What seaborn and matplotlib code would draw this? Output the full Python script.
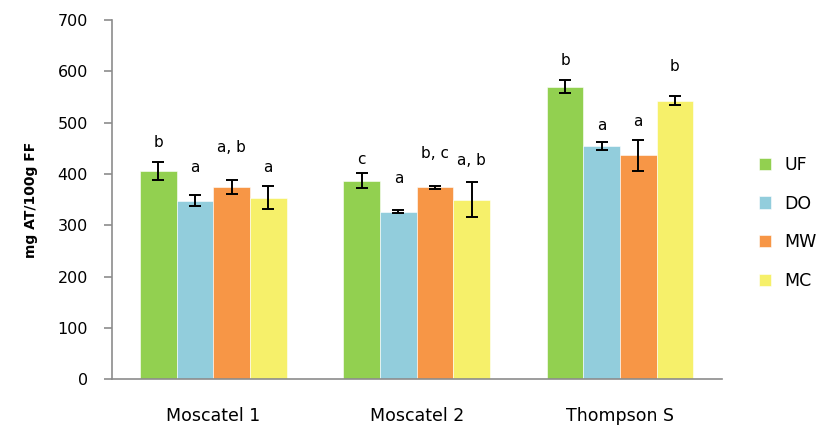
import matplotlib
matplotlib.use("Agg")
import matplotlib.pyplot as plt
import seaborn as sns
import pandas as pd

# Varieties and drying treatments
varieties = ["Moscatel 1", "Moscatel 2", "Thompson S"]
treatments = ["UF", "DO", "MW", "MC"]

# Mean titratable acidity (mg AT/100 g FF), one list per treatment
uf_mean = [406, 387, 570]
do_mean = [348, 326, 454]
mw_mean = [375, 374, 436]
mc_mean = [354, 350, 543]

# Standard deviations
uf_sd = [18, 15, 13]
do_sd = [11, 3, 8]
mw_sd = [14, 3, 31]
mc_sd = [23, 34, 9]

# Significance letters and the height they are written at
uf_letters = ["b", "c", "b"]
do_letters = ["a", "a", "a"]
mw_letters = ["a, b", "b, c", "a"]
mc_letters = ["a", "a, b", "b"]
uf_label_y = [462, 429, 622]
do_label_y = [412, 392, 494]
mw_label_y = [451, 440, 503]
mc_label_y = [412, 426, 610]

colors = ["#92D050", "#92CDDC", "#F79646", "#F6F06A"]

means = [uf_mean, do_mean, mw_mean, mc_mean]
sds = [uf_sd, do_sd, mw_sd, mc_sd]
letters = [uf_letters, do_letters, mw_letters, mc_letters]
label_y = [uf_label_y, do_label_y, mw_label_y, mc_label_y]

rows = []
for t, m in zip(treatments, means):
    for v, val in zip(varieties, m):
        rows.append({"variety": v, "treatment": t, "value": val})
df = pd.DataFrame(rows)

sns.set_theme(style="white")
plt.rcParams["font.family"] = ["DejaVu Sans"]

fig = plt.figure(figsize=(8.21, 4.26), dpi=100)
ax = fig.add_axes([0.136, 0.110, 0.743, 0.843])

sns.barplot(data=df, x="variety", y="value", hue="treatment",
            order=varieties, hue_order=treatments, palette=colors,
            width=0.72, errorbar=None, saturation=1, ax=ax,
            edgecolor="white", linewidth=0.4)

# Error bars and letters above each bar
for container, m, s, lab, ly in zip(ax.containers, means, sds, letters, label_y):
    xs = [b.get_x() + b.get_width() / 2 for b in container]
    ax.errorbar(xs, m, yerr=s, fmt="none", ecolor="black",
                elinewidth=1.4, capsize=4, capthick=1.4, zorder=5)
    for x, t, y in zip(xs, lab, ly):
        ax.text(x, y, t, ha="center", va="center", fontsize=11, color="black")

ax.set_ylim(0, 700)
ax.set_xlim(-0.5, 2.5)
ax.set_yticks(range(0, 701, 100))
ax.set_xlabel("")
ax.set_ylabel("mg AT/100g FF", fontsize=10, fontweight="bold", labelpad=14,
              color="black")

for side in ["top", "right"]:
    ax.spines[side].set_visible(False)
for side in ["left", "bottom"]:
    ax.spines[side].set_color("#8C8C8C")
    ax.spines[side].set_linewidth(1.2)

ax.tick_params(axis="y", which="major", direction="out", length=6,
               color="#8C8C8C", width=1.2, labelsize=11.5, pad=11,
               left=True, labelcolor="black")
ax.tick_params(axis="x", length=0, labelsize=12.5, pad=20, labelcolor="black")

leg = ax.legend(loc="center left", bbox_to_anchor=(1.05, 0.435), frameon=False,
                fontsize=12.5, handlelength=0.7, handleheight=0.7,
                handletextpad=0.75, labelspacing=1.2, borderaxespad=0)
for txt in leg.get_texts():
    txt.set_color("black")

fig.savefig("out.png", dpi=100, facecolor="white")
